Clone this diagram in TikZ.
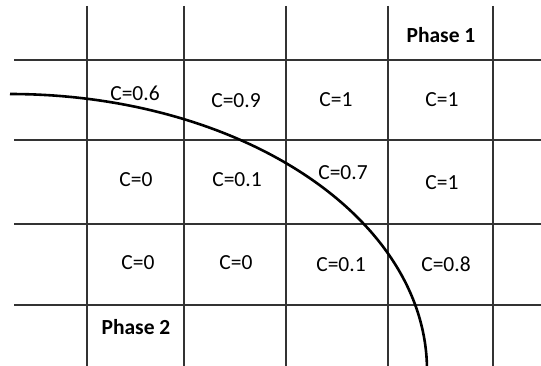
\documentclass[tikz,border=0pt]{standalone}
\usepackage{fontspec}
\setmainfont{Carlito}
\usepackage{tikz}
\usetikzlibrary{positioning, calc}
\definecolor{gridgray}{HTML}{333333}

\tikzset{
    cell/.style={font=\fontsize{21.5}{24}\selectfont, inner sep=0pt},
    phase/.style={cell, font=\fontsize{21.5}{24}\selectfont\bfseries},
    gridline/.style={gridgray, line width=1.2pt},
    front/.style={black, line width=2.6pt}
}

\begin{document}
\begin{tikzpicture}[x=1pt, y=-1pt]
        \useasboundingbox (0,0) rectangle (541,366);

        % Grid
        \foreach \gx in {87,184,286,388,493}
            \draw[gridline] (\gx,6) -- (\gx,366);
        \foreach \gy in {60,140,224,305}
            \draw[gridline] (14,\gy) -- (541,\gy);

        % Phase labels
        \node[phase] (phaseone) at (441,35) {Phase 1};
        \node[phase] (phasetwo) at (136,327) {Phase 2};

        % Row 1
        \node[cell] (c11) at (135,93) {C=0.6};
        \node[cell] (c12) at (236,101) {C=0.9};
        \node[cell] (c13) at (336,100) {C=1};
        \node[cell] (c14) at (442,100) {C=1};

        % Row 2
        \node[cell] (c21) at (136,180) {C=0};
        \node[cell] (c22) at (237,180) {C=0.1};
        \node[cell] (c23) at (343,173) {C=0.7};
        \node[cell] (c24) at (442,183) {C=1};

        % Row 3
        \node[cell] (c31) at (138,263) {C=0};
        \node[cell] (c32) at (236,263) {C=0};
        \node[cell] (c33) at (341,265) {C=0.1};
        \node[cell] (c34) at (446,264) {C=0.8};

        % Interface
        \draw[front, domain=0.8:90, samples=120, smooth, variable=\t]
            plot ({10+417*cos(\t)}, {370-276*sin(\t)});
    \end{tikzpicture}
\end{document}
